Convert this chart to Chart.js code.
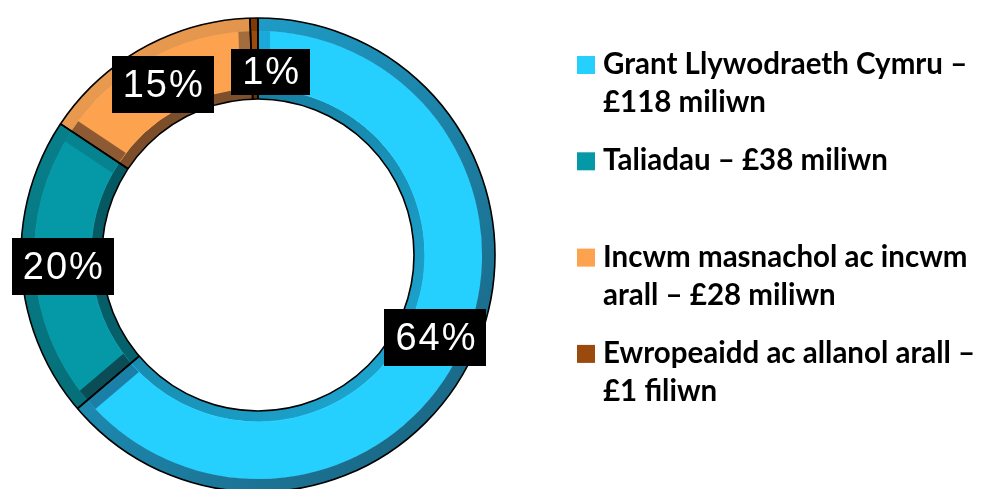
<!DOCTYPE html>
<html>
<head>
<meta charset="utf-8">
<script src="https://cdn.jsdelivr.net/npm/chart.js@4.4.0/dist/chart.umd.min.js"></script>
<style>
  html,body{margin:0;padding:0;background:#fff;overflow:hidden;}
  #wrap{position:relative;width:986px;height:495px;}
</style>
</head>
<body>
<div id="wrap"><canvas id="c"></canvas></div>
<script>
'use strict';

// ── data ──────────────────────────────────────────────
const labels=[
  ['Grant Llywodraeth Cymru –','£118 miliwn'],
  ['Taliadau – £38 miliwn'],
  ['Incwm masnachol ac incwm','arall – £28 miliwn'],
  ['Ewropeaidd ac allanol arall –','£1 filiwn']
];
const values=[118,38,28,1];
const pctLabels=['64%','20%','15%','1%'];

// ── colours ───────────────────────────────────────────
const face=['#25CFFE','#0599A8','#FDA24E','#9A4A0C'];
const rimOut=[['#1FB0E0','#1A5E7A'],['#078792','#04535C'],['#F2A255','#B06A32'],['#8A3F08','#5E2A04']];
const rimIn =[['#12627E','#1FB8E6'],['#044B53','#067C88'],['#6E4424','#A06838'],['#5A2804','#8A3F08']];
const sideA=['#1BA9DA','#0A4D56','#8E5A33','#7A3806'];   // bevel at slice start
const sideB=['#1B7FA8','#06838F','#A36C3C','#7A3806'];   // bevel at slice end

function grad(chart,pair){
  const a=chart.chartArea; if(!a) return pair[0];
  const g=chart.ctx.createLinearGradient(a.left,a.top,a.right,a.bottom);
  g.addColorStop(0,pair[0]); g.addColorStop(1,pair[1]);
  return g;
}

// ── bevel sides + outline ─────────────────────────────
const bevel={
  id:'bevel',
  afterDatasetsDraw(chart,args,o){
    const ctx=chart.ctx;
    const mid=chart.getDatasetMeta(1).data;
    const R=chart.getDatasetMeta(0).data[0].outerRadius;
    const r=chart.getDatasetMeta(2).data[0].innerRadius;
    const side=(x,y,a,d,ri,ro,col)=>{
      ctx.beginPath();
      ctx.moveTo(x+ri*Math.cos(a),y+ri*Math.sin(a));
      ctx.lineTo(x+ro*Math.cos(a),y+ro*Math.sin(a));
      const ao=a+d*o.width/ro, ai=a+d*o.width/ri;
      ctx.lineTo(x+ro*Math.cos(ao),y+ro*Math.sin(ao));
      ctx.lineTo(x+ri*Math.cos(ai),y+ri*Math.sin(ai));
      ctx.closePath(); ctx.fillStyle=col; ctx.fill();
    };
    ctx.save();
    mid.forEach((arc,i)=>{
      if(arc.endAngle-arc.startAngle<o.minAngle) return;
      side(arc.x,arc.y,arc.startAngle,1,arc.innerRadius,arc.outerRadius,sideA[i]);
      side(arc.x,arc.y,arc.endAngle,-1,arc.innerRadius,arc.outerRadius,sideB[i]);
    });
    const {x,y}=mid[0];
    ctx.strokeStyle='#000'; ctx.lineWidth=1.6;
    ctx.beginPath(); ctx.arc(x,y,R,0,Math.PI*2); ctx.stroke();
    ctx.beginPath(); ctx.arc(x,y,r,0,Math.PI*2); ctx.stroke();
    mid.forEach(arc=>{
      [arc.startAngle,arc.endAngle].forEach(a=>{
        ctx.beginPath();
        ctx.moveTo(x+r*Math.cos(a),y+r*Math.sin(a));
        ctx.lineTo(x+R*Math.cos(a),y+R*Math.sin(a));
        ctx.stroke();
      });
    });
    ctx.restore();
  }
};

// ── black percentage boxes ────────────────────────────
const pctBoxes={
  id:'pctBoxes',
  afterDraw(chart,args,o){
    const ctx=chart.ctx;
    ctx.save();
    ctx.font=o.font; ctx.textAlign='left'; ctx.textBaseline='middle';
    ctx.letterSpacing=o.spacing+'px';
    chart.getDatasetMeta(1).data.forEach((arc,i)=>{
      const p=arc.tooltipPosition(true);
      const t=pctLabels[i], n=(o.nudge[i]||{});
      const cx=p.x+(n.dx||0), cy=p.y+(n.dy||0);
      const tw=ctx.measureText(t).width-o.spacing;
      const w=tw+2*o.padX, h=n.h||o.h;
      ctx.fillStyle='#000';
      ctx.fillRect(Math.round(cx-w/2),Math.round(cy-h/2),Math.round(w),h);
      ctx.fillStyle='#fff';
      ctx.fillText(t,cx-tw/2,cy+2);
    });
    ctx.restore();
  }
};

// ── side legend ───────────────────────────────────────
const sideLegend={
  id:'sideLegend',
  afterDraw(chart,args,o){
    const ctx=chart.ctx;
    ctx.save();
    ctx.font=o.font; ctx.textBaseline='alphabetic';
    labels.forEach((lines,i)=>{
      const base=o.top+i*o.step;
      ctx.fillStyle=face[i];
      ctx.fillRect(o.x,base-o.box,o.box,o.box);
      ctx.fillStyle='#000';
      lines.forEach((s,k)=>ctx.fillText(s,o.textX,base+k*o.lineH));
    });
    ctx.restore();
  }
};

const ring=(cols,weight)=>({
  data:values,weight,
  backgroundColor:cols,borderColor:cols,borderWidth:1
});

new Chart(document.getElementById('c'),{
  type:'doughnut',
  data:{labels,datasets:[
    {data:values,weight:13,borderWidth:0,
      backgroundColor:c=>grad(c.chart,rimOut[c.dataIndex])},
    ring(face,57),
    {data:values,weight:11,borderWidth:0,
      backgroundColor:c=>grad(c.chart,rimIn[c.dataIndex])}
  ]},
  options:{
    responsive:true,maintainAspectRatio:false,animation:false,
    cutout:156,
    layout:{padding:{left:21,right:491,top:18,bottom:3}},
    plugins:{
      legend:{display:false},tooltip:{enabled:false},
      bevel:{width:12,minAngle:0.1},
      pctBoxes:{font:"38px 'Liberation Sans', Arial, sans-serif",spacing:2,padX:11,h:57,nudge:{3:{dx:16,dy:12,h:46}}},
      sideLegend:{font:"bold 29.5px Lato, 'Open Sans', sans-serif",x:577,box:18,textX:603,top:74,step:96.3,lineH:38}
    }
  },
  plugins:[bevel,pctBoxes,sideLegend]
});
</script>
</body>
</html>
